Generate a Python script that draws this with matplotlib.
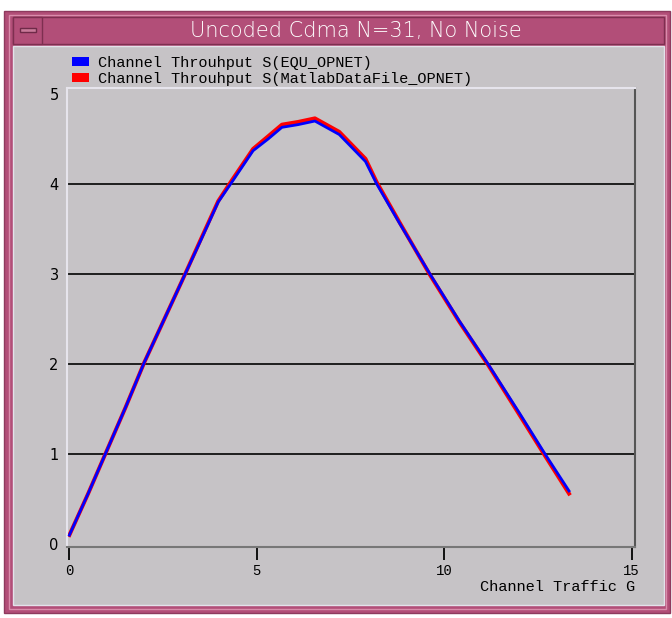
import numpy as np
import matplotlib
matplotlib.use('Agg')
import matplotlib.pyplot as plt
from matplotlib.patches import Rectangle, Patch

# channel traffic G and throughput S
G = [0, 0.5, 1.0, 1.5, 2.0, 2.5, 3.0, 3.5, 3.97, 4.3, 4.9, 5.3, 5.67, 6.1,
     6.55, 7.2, 7.9, 8.2, 8.8, 9.62, 10.4, 11.17, 12.0, 12.69, 13.33]
S_equ = [0.10, 0.56, 1.04, 1.52, 2.02, 2.47, 2.92, 3.37, 3.80, 4.00, 4.37,
         4.50, 4.63, 4.66, 4.70, 4.55, 4.25, 4.00, 3.57, 3.00, 2.48, 2.00,
         1.46, 1.00, 0.59]
S_matlab = [0.10, 0.56, 1.04, 1.52, 2.02, 2.47, 2.92, 3.38, 3.81, 4.02, 4.39,
            4.53, 4.66, 4.69, 4.73, 4.58, 4.28, 4.02, 3.58, 2.99, 2.47, 1.99,
            1.44, 0.98, 0.56]
grid_levels = [1, 2, 3, 4]
xticks = [0, 5, 10, 15]
yticks = [0, 1, 2, 3, 4, 5]
title = 'Uncoded Cdma N=31, No Noise'
labels = ['Channel Throuhput S(EQU_OPNET)', 'Channel Throuhput S(MatlabDataFile_OPNET)']

W, H = 672, 618
pink = '#B24E78'
gray = '#C6C3C6'
mono = 'Liberation Mono'

fig = plt.figure(figsize=(W / 100, H / 100), dpi=100, facecolor='white')


def box(x0, y0, x1, y1, **kw):
    # rectangle given in pixel coords from the top-left corner
    fig.add_artist(Rectangle((x0 / W, 1 - y1 / H), (x1 - x0) / W, (y1 - y0) / H,
                             transform=fig.transFigure, zorder=-10, **kw))


# window frame
box(4, 11, 670, 613, facecolor=pink, edgecolor='#8E3A5E', lw=1)
box(9, 15, 666, 609, facecolor='none', edgecolor='#D98CAB', lw=1)
box(13, 17, 664, 44, facecolor=pink, edgecolor='#7E2F50', lw=1)
box(13, 17, 42, 44, facecolor=pink, edgecolor='#7E2F50', lw=1)
box(20, 28, 36, 32, facecolor='#C97A9A', edgecolor='#6E2A48', lw=1)
box(13, 46, 664, 605, facecolor=gray, edgecolor='#E4E2EA', lw=1)
fig.text(356 / W, 1 - 31 / H, title, color='white', fontsize=15,
         ha='center', va='center', family='DejaVu Sans', fontweight='light')

ax = fig.add_axes([67 / W, 1 - 547 / H, 568 / W, 459 / H])
ax.set_facecolor(gray)
for level in grid_levels:
    ax.axhline(level, color='#111111', lw=1.3, zorder=1)
ax.plot(G, S_matlab, color='#FF0000', lw=2.8, zorder=2)
ax.plot(G, S_equ, color='#0000FF', lw=2.0, zorder=3)

ax.set_xlim(-0.064, 15.09)
ax.set_ylim(-0.033, 5.067)
ax.set_xticks(xticks)
ax.set_yticks(yticks)
ax.tick_params(axis='x', direction='out', length=9.5, width=1.4, pad=3,
               labelsize=10, color='#111111')
ax.tick_params(axis='y', length=0, pad=6, labelsize=10.5)
for t in ax.get_xticklabels():
    t.set_family(mono)

ax.spines['top'].set_color('#E6E4EC')
ax.spines['left'].set_color('#E6E4EC')
ax.spines['right'].set_color('#555555')
ax.spines['bottom'].set_color('#777777')
for s in ax.spines.values():
    s.set_linewidth(1.5)

ax.set_xlabel('Channel Traffic G', family=mono, fontsize=11)
ax.xaxis.set_label_coords(1.0, -0.087)
ax.xaxis.label.set_ha('right')
ax.xaxis.label.set_va('center')

handles = [Patch(facecolor='#0000FF'), Patch(facecolor='#FF0000')]
fig.legend(handles, labels, loc='upper left', bbox_to_anchor=(72 / W, 1 - 56 / H),
           frameon=False, borderpad=0, borderaxespad=0, labelspacing=0.15,
           handlelength=1.1, handleheight=0.55, handletextpad=0.6,
           prop={'family': mono, 'size': 11})

fig.savefig('out.png', dpi=100, facecolor='white')
